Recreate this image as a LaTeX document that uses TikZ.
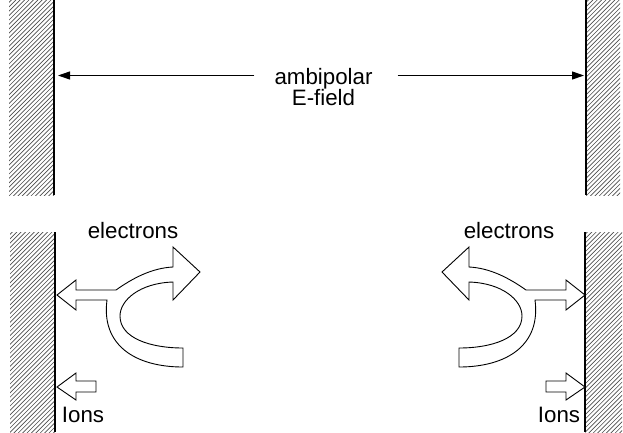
\documentclass[tikz,border=0pt]{standalone}
\usepackage{fontspec}
\setmainfont{Liberation Sans}
\usetikzlibrary{arrows.meta}
\newcommand\hatchbox[4]{%
  \begin{scope}
    \clip (#1,#2) rectangle (#3,#4);
    \foreach \k in {0,...,70}{\draw[hatchline] (#1-2,#2+\k*4.4) -- ++(52,-52);}
  \end{scope}}
\newcommand\electronpath{(57,295) -- (76,280) -- (76,290) -- (116,290)
  .. controls (133,278) and (152,268) .. (173,267) -- (173,247) -- (200,272)
  -- (173,300) -- (173,282) .. controls (140,283) and (120,300) .. (120,316)
  .. controls (120,338) and (150,348) .. (183,348) -- (183,367)
  .. controls (135,367) and (101,345) .. (107,300) -- (76,300) -- (76,310) -- cycle}
\newcommand\ionpath{(57,387) -- (76,373) -- (76,381) -- (96,381) -- (96,392)
  -- (76,392) -- (76,400) -- cycle}
\begin{document}
\begin{tikzpicture}[x=1pt,y=-1pt,
  hatchline/.style={draw=black!70,line width=0.65pt},
  wall/.style={line width=1.2pt},
  efarrow/.style={line width=1pt,-{Triangle[length=12pt,width=8pt]}},
  fatarrow/.style={draw=black,line width=0.9pt,line join=miter,fill=white},
  lbl/.style={font=\fontsize{22.3}{25}\selectfont,inner sep=0pt,anchor=base}]
\useasboundingbox (0,0) rectangle (623,432);
% walls
\hatchbox{9}{0}{54}{195}
\hatchbox{586}{0}{620}{195}
\hatchbox{10}{232}{55}{432}
\hatchbox{585}{232}{622}{432}
\draw[wall] (54,0) -- (54,195);
\draw[wall] (586,0) -- (586,195);
\draw[wall] (55,232) -- (55,432);
\draw[wall] (585,232) -- (585,432);
% ambipolar field
\node[lbl,inner xsep=20pt] (amb) at (323.5,84) {ambipolar};
\node[lbl] (efield) at (323.5,105) {E-field};
\coordinate (tl) at (58,75.5);
\coordinate (tr) at (584,75.5);
\draw[efarrow] (amb.west |- tl) -- (tl);
\draw[efarrow,shorten <=5pt] (amb.east |- tr) -- (tr);
% left side
\draw[fatarrow] \electronpath;
\draw[fatarrow] \ionpath;
\node[lbl] (elL) at (133,238) {electrons};
\node[lbl] (ionL) at (83,422) {Ions};
% right side (mirror)
\begin{scope}[shift={(642,0)},xscale=-1]
\draw[fatarrow] \electronpath;
\draw[fatarrow] \ionpath;
\end{scope}
\node[lbl] (elR) at (509,238) {electrons};
\node[lbl] (ionR) at (559,422) {Ions};
\end{tikzpicture}
\end{document}
